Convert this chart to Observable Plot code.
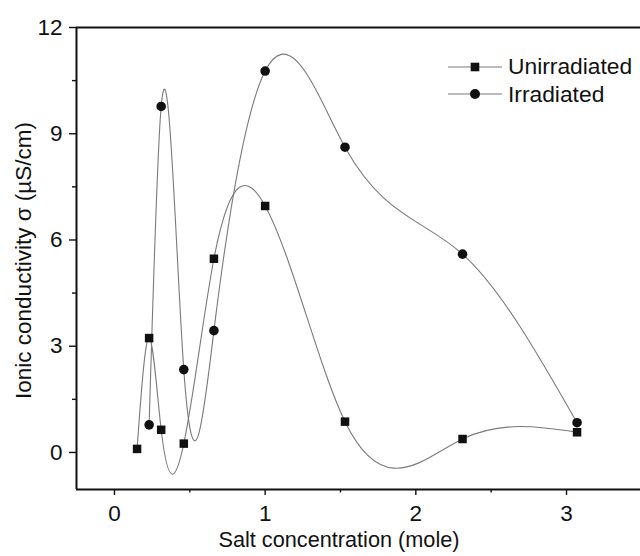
<!DOCTYPE html>
<html>
<head>
<meta charset="utf-8">
<script src="https://cdn.jsdelivr.net/npm/d3@7"></script>
<script src="https://cdn.jsdelivr.net/npm/@observablehq/plot@0.6"></script>
<style>
  html, body { margin: 0; padding: 0; background: #fff; }
  #chart { position: relative; width: 640px; height: 556px; overflow: hidden;
           font-family: "Liberation Sans", Arial, Helvetica, sans-serif; }
  #legend { position: absolute; left: 448px; top: 53px; color: #111; font-size: 22.8px; }
  #legend .row { display: flex; align-items: center; height: 27.6px; }
  #legend svg { display: block; margin-right: 6px; }
</style>
</head>
<body>
<div id="chart"></div>
<script>
// Salt concentration (mole) for each sample
const unirradiatedConc = [0.15, 0.23, 0.31, 0.46, 0.66, 1.00, 1.53, 2.31, 3.07];
const irradiatedConc   = [0.23, 0.31, 0.46, 0.66, 1.00, 1.53, 2.31, 3.07];
// Ionic conductivity σ (µS/cm)
const unirradiated = [0.10, 3.23, 0.64, 0.25, 5.47, 6.96, 0.87, 0.38, 0.57];
const irradiated   = [0.78, 9.77, 2.34, 3.44, 10.77, 8.62, 5.60, 0.84];

const seriesNames = ["Unirradiated", "Irradiated"];
const xTicks = [0, 1, 2, 3];
const xMinorTicks = [0.5, 1.5, 2.5];
const yTicks = [0, 3, 6, 9, 12];
const yMinorTicks = [1.5, 4.5, 7.5, 10.5];
const xLabel = "Salt concentration (mole)";
const yLabel = "Ionic conductivity σ (µS/cm)";

const rows = [
  ...unirradiatedConc.map((c, i) => ({series: seriesNames[0], conc: c, sigma: unirradiated[i]})),
  ...irradiatedConc.map((c, i) => ({series: seriesNames[1], conc: c, sigma: irradiated[i]}))
];

// Natural cubic spline with y as a function of x, emitted as Bézier segments.
function splineX(context) {
  return {
    areaStart() {}, areaEnd() {},
    lineStart() { this.X = []; this.Y = []; },
    point(x, y) { this.X.push(+x); this.Y.push(+y); },
    lineEnd() {
      const X = this.X, Y = this.Y, n = X.length;
      if (!n) return;
      context.moveTo(X[0], Y[0]);
      if (n === 1) return;
      if (n === 2) { context.lineTo(X[1], Y[1]); return; }
      const h = [], M = new Array(n).fill(0);
      for (let i = 0; i < n - 1; i++) h.push(X[i + 1] - X[i]);
      // tridiagonal system for the interior second derivatives
      const a = [], b = [], c = [], d = [];
      for (let i = 1; i < n - 1; i++) {
        a.push(h[i - 1]);
        b.push(2 * (h[i - 1] + h[i]));
        c.push(h[i]);
        d.push(6 * ((Y[i + 1] - Y[i]) / h[i] - (Y[i] - Y[i - 1]) / h[i - 1]));
      }
      const m = b.length;
      for (let i = 1; i < m; i++) {
        const w = a[i] / b[i - 1];
        b[i] -= w * c[i - 1];
        d[i] -= w * d[i - 1];
      }
      M[m] = d[m - 1] / b[m - 1];
      for (let i = m - 2; i >= 0; i--) M[i + 1] = (d[i] - c[i] * M[i + 2]) / b[i];
      for (let i = 0; i < n - 1; i++) {
        const hi = h[i], s = (Y[i + 1] - Y[i]) / hi;
        const m0 = s - hi * (2 * M[i] + M[i + 1]) / 6;
        const m1 = s + hi * (M[i] + 2 * M[i + 1]) / 6;
        context.bezierCurveTo(
          X[i] + hi / 3, Y[i] + m0 * hi / 3,
          X[i + 1] - hi / 3, Y[i + 1] - m1 * hi / 3,
          X[i + 1], Y[i + 1]
        );
      }
    }
  };
}

const ink = "#111";
const curveGray = "#7a7a7a";
const font = "\"Liberation Sans\", Arial, Helvetica, sans-serif";
const label = d => String(d);
const none = () => "";

const chart = Plot.plot({
  width: 640,
  height: 556,
  marginLeft: 76,
  marginRight: 0,
  marginTop: 27,
  marginBottom: 67,
  style: {fontFamily: font, fontSize: "21px", color: ink, background: "#fff"},
  x: {domain: [-0.252, 3.491]},
  y: {domain: [-1.046, 12]},
  marks: [
    // tick marks
    Plot.axisX(xTicks, {tickSize: 6, tickFormat: none, label: null, stroke: ink, strokeWidth: 1.4}),
    Plot.axisX(xMinorTicks, {tickSize: 3.5, tickFormat: none, label: null, stroke: ink, strokeWidth: 1.4}),
    Plot.axisY(yTicks, {tickSize: 7, tickFormat: none, label: null, stroke: ink, strokeWidth: 1.4}),
    Plot.axisY(yMinorTicks, {tickSize: 4, tickFormat: none, label: null, stroke: ink, strokeWidth: 1.4}),
    // tick labels
    Plot.text(xTicks, {x: d => d, text: label, frameAnchor: "bottom", lineAnchor: "top", dy: 16, fontSize: 22.5, fill: ink}),
    Plot.text(yTicks, {y: d => d, text: label, frameAnchor: "left", textAnchor: "end", lineAnchor: "middle", dx: -14, fontSize: 22.5, fill: ink}),
    // axis lines
    Plot.ruleX([-0.252], {stroke: ink, strokeWidth: 2}),
    Plot.ruleY([-1.046, 12], {stroke: ink, strokeWidth: 2}),
    // data
    Plot.line(rows, {x: "conc", y: "sigma", z: "series", curve: splineX, stroke: curveGray, strokeWidth: 1.1}),
    Plot.dot(rows, Plot.filter(d => d.series === seriesNames[0],
      {x: "conc", y: "sigma", symbol: "square", r: 4.8, fill: ink, stroke: "none"})),
    Plot.dot(rows, Plot.filter(d => d.series === seriesNames[1],
      {x: "conc", y: "sigma", symbol: "circle", r: 4.8, fill: ink, stroke: "none"})),
    // axis titles
    Plot.text([xLabel], {frameAnchor: "bottom", lineAnchor: "middle", dy: 51, dx: -19.5, fontSize: 21.7, fill: ink}),
    Plot.text([yLabel], {frameAnchor: "left", textAnchor: "middle", lineAnchor: "middle", rotate: -90, dx: -53, dy: 2, fontSize: 22.5, fill: ink})
  ]
});

document.getElementById("chart").appendChild(chart);

// Legend
const legend = document.createElement("div");
legend.id = "legend";
for (const name of seriesNames) {
  const row = document.createElement("div");
  row.className = "row";
  const marker = name === seriesNames[0]
    ? `<rect x="22.7" y="2.7" width="8.6" height="8.6" fill="${ink}"/>`
    : `<circle cx="27" cy="7" r="5" fill="${ink}"/>`;
  row.innerHTML = `<svg width="54" height="14"><line x1="0" x2="54" y1="7" y2="7" stroke="${curveGray}" stroke-width="1.1"/>${marker}</svg><span>${name}</span>`;
  legend.appendChild(row);
}
document.getElementById("chart").appendChild(legend);
</script>
</body>
</html>
